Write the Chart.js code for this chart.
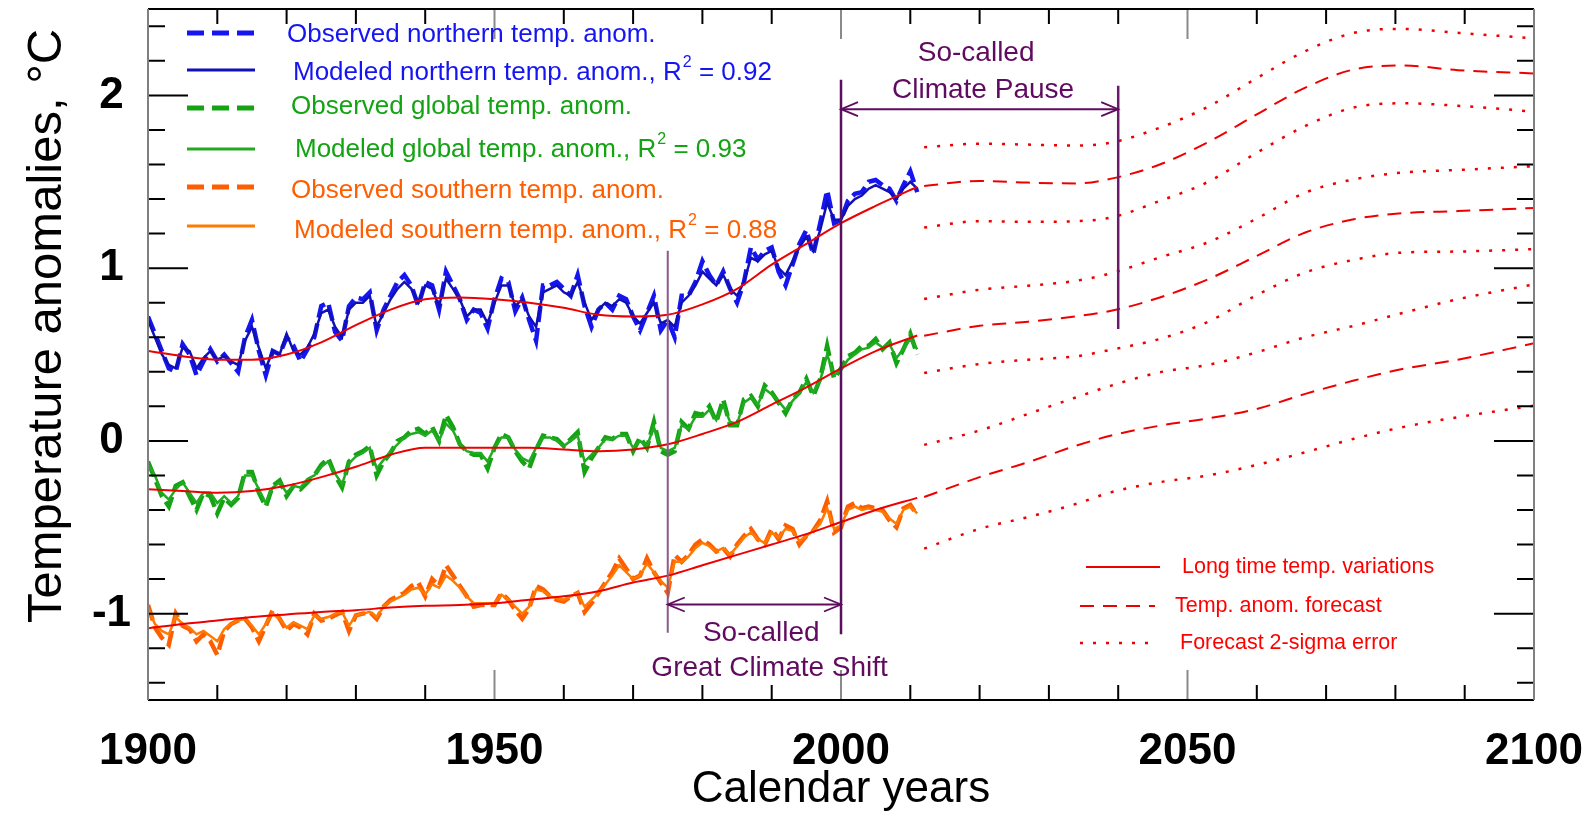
<!DOCTYPE html>
<html>
<head>
<meta charset="utf-8">
<script src="https://cdn.jsdelivr.net/npm/chart.js@4"></script>
<style>
  html, body { margin: 0; padding: 0; background: #fff; }
  canvas { display: block; }
</style>
</head>
<body>
<canvas id="myChart" width="1595" height="816"></canvas>
<script>
const FONT = '"Liberation Sans", Arial, Helvetica, sans-serif';

// annual anomalies 1900..2011
const firstYear = 1900;
const northObserved = [
  0.72, 0.62, 0.52, 0.42, 0.40, 0.56, 0.50, 0.38, 0.46, 0.53,
  0.46, 0.50, 0.45, 0.40, 0.60, 0.70, 0.52, 0.38, 0.52, 0.50,
  0.60, 0.55, 0.46, 0.53, 0.60, 0.78, 0.80, 0.63, 0.58, 0.78,
  0.83, 0.82, 0.86, 0.64, 0.76, 0.84, 0.92, 0.96, 0.90, 0.78,
  0.92, 0.90, 0.76, 0.98, 0.90, 0.82, 0.70, 0.76, 0.74, 0.65,
  0.82, 0.94, 0.92, 0.75, 0.83, 0.70, 0.58, 0.90, 0.90, 0.92,
  0.88, 0.84, 0.96, 0.78, 0.66, 0.76, 0.80, 0.76, 0.84, 0.82,
  0.72, 0.64, 0.74, 0.84, 0.64, 0.70, 0.60, 0.84, 0.84, 0.92,
  1.04, 0.96, 0.90, 0.98, 0.88, 0.80, 0.92, 1.12, 1.05, 1.10,
  1.12, 0.98, 0.90, 1.02, 1.14, 1.22, 1.08, 1.26, 1.45, 1.26,
  1.28, 1.39, 1.43, 1.44, 1.50, 1.51, 1.48, 1.46, 1.39, 1.48,
  1.56, 1.44
];
const northModeled = [
  0.70, 0.60, 0.50, 0.44, 0.42, 0.54, 0.52, 0.42, 0.48, 0.52,
  0.47, 0.49, 0.46, 0.44, 0.58, 0.66, 0.54, 0.42, 0.52, 0.50,
  0.62, 0.52, 0.50, 0.54, 0.62, 0.74, 0.76, 0.66, 0.60, 0.76,
  0.80, 0.80, 0.84, 0.66, 0.74, 0.82, 0.88, 0.92, 0.88, 0.80,
  0.90, 0.88, 0.78, 0.94, 0.88, 0.82, 0.72, 0.76, 0.76, 0.68,
  0.80, 0.90, 0.90, 0.78, 0.82, 0.72, 0.66, 0.86, 0.88, 0.90,
  0.86, 0.84, 0.92, 0.80, 0.70, 0.76, 0.80, 0.78, 0.82, 0.80,
  0.72, 0.68, 0.74, 0.80, 0.68, 0.70, 0.66, 0.80, 0.84, 0.90,
  0.98, 0.94, 0.90, 0.96, 0.88, 0.84, 0.92, 1.06, 1.04, 1.08,
  1.10, 1.00, 0.96, 1.04, 1.12, 1.18, 1.10, 1.22, 1.38, 1.28,
  1.28, 1.36, 1.40, 1.42, 1.46, 1.48, 1.46, 1.44, 1.40, 1.46,
  1.50, 1.46
];
const globalObserved = [
  -0.12, -0.22, -0.32, -0.38, -0.26, -0.24, -0.32, -0.40, -0.30, -0.32,
  -0.42, -0.33, -0.37, -0.33, -0.18, -0.18, -0.30, -0.38, -0.26, -0.23,
  -0.32, -0.26, -0.28, -0.24, -0.20, -0.14, -0.10, -0.20, -0.27, -0.12,
  -0.08, -0.06, -0.03, -0.20, -0.12, -0.07, 0.00, 0.02, 0.06, 0.07,
  0.04, 0.08, 0.00, 0.15, 0.08, -0.02, -0.06, -0.08, -0.08, -0.16,
  -0.04, 0.04, 0.02, -0.06, -0.12, -0.16, -0.05, 0.03, 0.02, 0.01,
  -0.03, 0.01, 0.05, -0.18, -0.10, -0.04, 0.02, 0.01, 0.04, 0.04,
  -0.06, 0.02, -0.04, 0.11, -0.06, -0.08, -0.06, 0.11, 0.07, 0.16,
  0.15, 0.20, 0.11, 0.24, 0.09, 0.09, 0.24, 0.26, 0.20, 0.32,
  0.28, 0.22, 0.16, 0.24, 0.28, 0.36, 0.26, 0.36, 0.55, 0.36,
  0.42, 0.49, 0.51, 0.55, 0.55, 0.59, 0.53, 0.57, 0.45, 0.53,
  0.62, 0.50
];
const globalModeled = [
  -0.14, -0.20, -0.30, -0.34, -0.28, -0.24, -0.30, -0.36, -0.30, -0.30,
  -0.36, -0.32, -0.36, -0.32, -0.20, -0.20, -0.28, -0.36, -0.27, -0.24,
  -0.30, -0.26, -0.27, -0.22, -0.20, -0.15, -0.12, -0.19, -0.25, -0.13,
  -0.09, -0.07, -0.04, -0.16, -0.11, -0.06, -0.02, 0.02, 0.04, 0.05,
  0.03, 0.06, 0.00, 0.10, 0.06, -0.02, -0.06, -0.07, -0.07, -0.12,
  -0.04, 0.02, 0.02, -0.05, -0.10, -0.12, -0.04, 0.02, 0.02, 0.00,
  -0.03, 0.00, 0.03, -0.12, -0.08, -0.04, 0.01, 0.01, 0.03, 0.03,
  -0.04, 0.00, -0.03, 0.08, -0.04, -0.06, -0.04, 0.09, 0.07, 0.14,
  0.14, 0.18, 0.12, 0.21, 0.11, 0.10, 0.22, 0.25, 0.21, 0.30,
  0.27, 0.23, 0.18, 0.23, 0.28, 0.34, 0.28, 0.35, 0.50, 0.38,
  0.41, 0.47, 0.50, 0.53, 0.54, 0.57, 0.54, 0.56, 0.48, 0.53,
  0.59, 0.53
];
const southObserved = [
  -0.95, -1.08, -1.14, -1.18, -1.00, -1.07, -1.09, -1.16, -1.12, -1.16,
  -1.24, -1.10, -1.06, -1.04, -1.03, -1.08, -1.16, -1.07, -0.98, -1.03,
  -1.10, -1.06, -1.08, -1.12, -1.00, -1.04, -1.03, -1.01, -0.99, -1.10,
  -1.01, -1.00, -0.99, -1.03, -0.96, -0.92, -0.90, -0.88, -0.84, -0.82,
  -0.90, -0.80, -0.84, -0.72, -0.78, -0.84, -0.90, -0.96, -0.95, -0.95,
  -0.95, -0.88, -0.92, -0.98, -1.03, -0.97, -0.84, -0.86, -0.90, -0.92,
  -0.93, -0.90, -0.88, -0.99, -0.94, -0.88, -0.82, -0.76, -0.68, -0.74,
  -0.80, -0.78, -0.68, -0.76, -0.82, -0.88, -0.66, -0.70, -0.66, -0.60,
  -0.57, -0.60, -0.64, -0.62, -0.67, -0.60, -0.55, -0.51, -0.57, -0.60,
  -0.51, -0.57, -0.49, -0.51, -0.60, -0.55, -0.52, -0.46, -0.35, -0.53,
  -0.50, -0.38, -0.36, -0.39, -0.38, -0.39, -0.40, -0.46, -0.50, -0.39,
  -0.37, -0.43
];
const southModeled = [
  -0.97, -1.06, -1.10, -1.12, -1.02, -1.06, -1.08, -1.12, -1.10, -1.13,
  -1.16, -1.09, -1.06, -1.04, -1.03, -1.07, -1.12, -1.06, -1.00, -1.03,
  -1.08, -1.05, -1.07, -1.09, -1.01, -1.03, -1.02, -1.00, -0.99, -1.07,
  -1.01, -1.00, -0.99, -1.02, -0.96, -0.93, -0.91, -0.89, -0.86, -0.85,
  -0.89, -0.83, -0.85, -0.78, -0.81, -0.85, -0.90, -0.94, -0.94, -0.94,
  -0.94, -0.89, -0.92, -0.96, -1.00, -0.96, -0.86, -0.87, -0.90, -0.91,
  -0.92, -0.90, -0.88, -0.96, -0.92, -0.88, -0.83, -0.78, -0.72, -0.76,
  -0.80, -0.78, -0.71, -0.76, -0.81, -0.85, -0.70, -0.70, -0.67, -0.62,
  -0.59, -0.61, -0.64, -0.62, -0.66, -0.61, -0.56, -0.53, -0.57, -0.59,
  -0.53, -0.56, -0.51, -0.52, -0.58, -0.55, -0.52, -0.48, -0.39, -0.51,
  -0.49, -0.40, -0.38, -0.40, -0.39, -0.40, -0.41, -0.45, -0.48, -0.40,
  -0.38, -0.42
];

// long time temperature variations
const longYears = [1900, 1905, 1910, 1915, 1920, 1925, 1930, 1935, 1940, 1945, 1950,
  1955, 1960, 1965, 1970, 1975, 1980, 1985, 1990, 1995, 2000, 2005, 2011];
const northLong = [0.52, 0.49, 0.47, 0.47, 0.50, 0.57, 0.67, 0.76, 0.82, 0.83, 0.82,
  0.80, 0.77, 0.73, 0.72, 0.73, 0.79, 0.88, 1.02, 1.14, 1.26, 1.36, 1.47];
const globalLong = [-0.28, -0.29, -0.30, -0.29, -0.26, -0.21, -0.15, -0.08, -0.04, -0.04, -0.04,
  -0.04, -0.05, -0.06, -0.05, -0.02, 0.04, 0.11, 0.21, 0.31, 0.42, 0.52, 0.61];
const southLong = [-1.085, -1.06, -1.04, -1.02, -1.005, -0.99, -0.98, -0.965, -0.955, -0.95, -0.94,
  -0.92, -0.90, -0.87, -0.82, -0.78, -0.72, -0.66, -0.60, -0.54, -0.47, -0.40, -0.33];

// forecast and 2-sigma band
const forecastYears = [2012, 2020, 2027, 2034, 2039, 2046, 2053, 2060, 2067, 2074, 2081, 2089, 2100];
const northForecast = [1.476, 1.505, 1.495, 1.49, 1.518, 1.60, 1.73, 1.89, 2.045, 2.15, 2.173, 2.146, 2.127];
const northUpper = [1.70, 1.72, 1.715, 1.71, 1.727, 1.813, 1.935, 2.10, 2.256, 2.362, 2.385, 2.362, 2.33];
const northLower = [1.235, 1.272, 1.268, 1.272, 1.293, 1.389, 1.50, 1.668, 1.823, 1.93, 1.954, 1.94, 1.906];
const globalForecast = [0.609, 0.666, 0.69, 0.721, 0.753, 0.83, 0.936, 1.071, 1.206, 1.283, 1.318, 1.33, 1.348];
const globalUpper = [0.821, 0.875, 0.898, 0.927, 0.971, 1.062, 1.15, 1.287, 1.437, 1.514, 1.553, 1.568, 1.59];
const globalLower = [0.393, 0.445, 0.47, 0.49, 0.528, 0.59, 0.69, 0.844, 0.975, 1.048, 1.09, 1.096, 1.11];
const southForecast = [-0.325, -0.21, -0.123, -0.027, 0.031, 0.088, 0.13, 0.185, 0.272, 0.349, 0.416, 0.47, 0.565];
const southUpper = [-0.023, 0.06, 0.156, 0.253, 0.32, 0.397, 0.44, 0.513, 0.60, 0.666, 0.74, 0.82, 0.906];
const southLower = [-0.624, -0.509, -0.441, -0.364, -0.297, -0.239, -0.2, -0.139, -0.066, 0.012, 0.079, 0.137, 0.204];

// marker lines and arrows
const markerYears = [1975, 2000, 2040];
const markerTop = [1.10, 2.09, 2.055];
const markerBottom = [-1.11, -1.12, 0.647];
const pauseArrow = { from: 2000, to: 2040, y: 1.92 };
const shiftArrow = { from: 1975, to: 2000, y: -0.947 };

// axis ticks
const xTickValues = [1900, 1910, 1920, 1930, 1940, 1950, 1960, 1970, 1980, 1990, 2000,
  2010, 2020, 2030, 2040, 2050, 2060, 2070, 2080, 2090, 2100];
const yTickValues = [-1.4, -1.2, -1, -0.8, -0.6, -0.4, -0.2, 0, 0.2, 0.4, 0.6, 0.8, 1,
  1.2, 1.4, 1.6, 1.8, 2, 2.2, 2.4];
const xLabelValues = [1900, 1950, 2000, 2050, 2100];
const yLabelValues = [-1, 0, 1, 2];

const years = northObserved.map((v, i) => firstYear + i);
function pts(xs, ys) { return ys.map((y, i) => ({ x: xs[i], y: y })); }

const RED = '#ee0000';
const BLUE = '#1515f2', NAVY = '#1010b4';
const GREEN = '#13a313', GREEN2 = '#22aa22';
const ORANGE = '#ff5e00', ORANGE2 = '#ff7a00';
const PURPLE = '#600a60';

function obs(data, color) {
  return { data: pts(years, data), borderColor: color, borderWidth: 4.5, borderDash: [16, 6], order: 3 };
}
function mod(data, color) {
  return { data: pts(years, data), borderColor: color, borderWidth: 2.5, order: 2 };
}
function longLine(data) {
  return { data: pts(longYears, data), borderColor: RED, borderWidth: 2, cubicInterpolationMode: 'monotone', order: 1 };
}
function fc(data, dotted) {
  return {
    data: pts(forecastYears, data), borderColor: RED,
    borderWidth: dotted ? 2.5 : 2, borderDash: dotted ? [3, 10] : [14, 9],
    cubicInterpolationMode: 'monotone', order: 1
  };
}

const markerColors = ['#8a5a8a', '#5c0f5c', '#6a1a6a'];
const markerSets = markerYears.map((yr, i) => ({
  data: [{ x: yr, y: markerTop[i] }, { x: yr, y: markerBottom[i] }],
  borderColor: markerColors[i], borderWidth: i === 0 ? 2 : 2.5, order: 0
}));
const arrowSets = [pauseArrow, shiftArrow].map(a => ({
  data: [{ x: a.from, y: a.y }, { x: a.to, y: a.y }],
  borderColor: PURPLE, borderWidth: 2, order: 0
}));

const datasets = [
  obs(northObserved, BLUE), mod(northModeled, NAVY),
  obs(globalObserved, GREEN), mod(globalModeled, GREEN2),
  obs(southObserved, ORANGE), mod(southModeled, ORANGE2),
  longLine(northLong), longLine(globalLong), longLine(southLong),
  fc(northForecast, false), fc(northUpper, true), fc(northLower, true),
  fc(globalForecast, false), fc(globalUpper, true), fc(globalLower, true),
  fc(southForecast, false), fc(southUpper, true), fc(southLower, true),
  ...markerSets, ...arrowSets
];

const topLegend = [
  { text: 'Observed northern temp. anom.', r2: null, color: BLUE, line: BLUE, dashed: true, y: 35, ly: 33, tx: 287 },
  { text: 'Modeled northern temp. anom., R', r2: '0.92', color: BLUE, line: NAVY, dashed: false, y: 73, ly: 70, tx: 293 },
  { text: 'Observed global temp. anom.', r2: null, color: GREEN, line: GREEN, dashed: true, y: 107, ly: 108, tx: 291 },
  { text: 'Modeled global temp. anom., R', r2: '0.93', color: GREEN, line: GREEN2, dashed: false, y: 150, ly: 149, tx: 295 },
  { text: 'Observed southern temp. anom.', r2: null, color: ORANGE, line: ORANGE, dashed: true, y: 191, ly: 187, tx: 291 },
  { text: 'Modeled southern temp. anom., R', r2: '0.88', color: ORANGE, line: ORANGE2, dashed: false, y: 231, ly: 226, tx: 294 }
];
const redLegend = [
  { text: 'Long time temp. variations', dash: [], width: 2, y: 567, x0: 1086, x1: 1160, tx: 1182 },
  { text: 'Temp. anom. forecast', dash: [14, 9], width: 2, y: 606, x0: 1080, x1: 1155, tx: 1175 },
  { text: 'Forecast 2-sigma error', dash: [3, 10], width: 2.5, y: 643, x0: 1080, x1: 1150, tx: 1180 }
];

const decor = {
  id: 'decor',
  afterDatasetsDraw(chart) {
    const { ctx, chartArea: a, scales: { x, y } } = chart;
    ctx.save();

    // inward ticks
    ctx.lineWidth = 2;
    xTickValues.forEach(v => {
      const px = x.getPixelForValue(v);
      const major = xLabelValues.includes(v);
      const len = major ? 30 : 15;
      ctx.strokeStyle = major ? '#8a8a8a' : '#000';
      ctx.beginPath();
      ctx.moveTo(px, a.top); ctx.lineTo(px, a.top + len);
      ctx.moveTo(px, a.bottom); ctx.lineTo(px, a.bottom - len);
      ctx.stroke();
    });
    ctx.strokeStyle = '#000';
    yTickValues.forEach(v => {
      const py = y.getPixelForValue(v);
      const len = yLabelValues.includes(v) ? 40 : 17;
      ctx.beginPath();
      ctx.moveTo(a.left, py); ctx.lineTo(a.left + len, py);
      ctx.moveTo(a.right, py); ctx.lineTo(a.right - len, py);
      ctx.stroke();
    });

    // frame
    ctx.setLineDash([]);
    ctx.lineWidth = 2;
    ctx.strokeStyle = '#000';
    ctx.beginPath();
    ctx.moveTo(a.left, a.top); ctx.lineTo(a.right, a.top);
    ctx.moveTo(a.left, a.bottom); ctx.lineTo(a.right, a.bottom);
    ctx.stroke();
    ctx.strokeStyle = '#808080';
    ctx.beginPath();
    ctx.moveTo(a.left, a.top); ctx.lineTo(a.left, a.bottom);
    ctx.moveTo(a.right, a.top); ctx.lineTo(a.right, a.bottom);
    ctx.stroke();

    // arrow heads
    ctx.strokeStyle = PURPLE;
    ctx.lineWidth = 1.8;
    function head(xv, yv, dir) {
      const px = x.getPixelForValue(xv), py = y.getPixelForValue(yv);
      ctx.beginPath();
      ctx.moveTo(px - dir * 17, py - 7); ctx.lineTo(px, py); ctx.lineTo(px - dir * 17, py + 7);
      ctx.stroke();
    }
    [pauseArrow, shiftArrow].forEach(ar => { head(ar.from, ar.y, -1); head(ar.to, ar.y, 1); });

    // annotation text
    ctx.fillStyle = PURPLE;
    ctx.font = '28px ' + FONT;
    ctx.textAlign = 'center';
    ctx.textBaseline = 'middle';
    ctx.fillText('So-called', x.getPixelForValue(2019.5), y.getPixelForValue(2.245));
    ctx.fillText('Climate Pause', x.getPixelForValue(2020.5), y.getPixelForValue(2.03));
    ctx.fillText('So-called', x.getPixelForValue(1988.5), y.getPixelForValue(-1.115));
    ctx.fillText('Great Climate Shift', x.getPixelForValue(1989.7), y.getPixelForValue(-1.315));

    // top-left legend
    ctx.textAlign = 'left';
    topLegend.forEach(e => {
      ctx.strokeStyle = e.line;
      ctx.lineWidth = e.dashed ? 5 : 3;
      ctx.setLineDash(e.dashed ? [17, 8] : []);
      ctx.beginPath();
      ctx.moveTo(187, e.ly); ctx.lineTo(255, e.ly);
      ctx.stroke();
      ctx.setLineDash([]);
      ctx.fillStyle = e.color;
      ctx.font = '26px ' + FONT;
      ctx.fillText(e.text, e.tx, e.y);
      if (e.r2) {
        let w = ctx.measureText(e.text).width;
        ctx.font = '16px ' + FONT;
        ctx.fillText('2', e.tx + w + 1, e.y - 10);
        w += ctx.measureText('2').width + 1;
        ctx.font = '26px ' + FONT;
        ctx.fillText(' = ' + e.r2, e.tx + w, e.y);
      }
    });

    // bottom-right legend
    ctx.fillStyle = '#ff0000';
    ctx.strokeStyle = RED;
    ctx.font = '21.5px ' + FONT;
    redLegend.forEach(e => {
      ctx.lineWidth = e.width;
      ctx.setLineDash(e.dash);
      ctx.beginPath();
      ctx.moveTo(e.x0, e.y); ctx.lineTo(e.x1, e.y);
      ctx.stroke();
      ctx.setLineDash([]);
      ctx.fillText(e.text, e.tx, e.y);
    });

    // y axis title
    ctx.fillStyle = '#000';
    ctx.font = '49px ' + FONT;
    ctx.textAlign = 'center';
    ctx.translate(47, 326);
    ctx.rotate(-Math.PI / 2);
    ctx.fillText('Temperature anomalies, \u00B0C', 0, 0);
    ctx.restore();
  }
};

const ctx = document.getElementById('myChart').getContext('2d');
const myChart = new Chart(ctx, {
  type: 'line',
  data: { datasets: datasets },
  options: {
    responsive: false,
    animation: false,
    parsing: false,
    layout: { padding: { top: 9, right: 61, left: 0, bottom: 0 } },
    elements: { point: { radius: 0 }, line: { tension: 0, fill: false } },
    plugins: { legend: { display: false }, tooltip: { enabled: false } },
    scales: {
      x: {
        type: 'linear', min: 1900, max: 2100,
        grid: { display: false }, border: { display: false },
        afterBuildTicks(scale) { scale.ticks = xLabelValues.map(v => ({ value: v })); },
        ticks: {
          autoSkip: false, maxRotation: 0, padding: 17,
          color: '#000', font: { family: FONT, size: 44, weight: 'bold' },
          callback: v => String(v)
        },
        title: { display: true, text: 'Calendar years', color: '#000',
          font: { family: FONT, size: 44 }, padding: { top: 0, bottom: 0 } },
        afterFit(scale) {
          scale.height = 116;
          scale.paddingLeft = 0; scale.paddingRight = 0;
        }
      },
      y: {
        type: 'linear', min: -1.5, max: 2.5,
        grid: { display: false }, border: { display: false },
        afterBuildTicks(scale) { scale.ticks = yLabelValues.map(v => ({ value: v })); },
        ticks: {
          autoSkip: false, padding: 9, crossAlign: 'center',
          color: '#000', font: { family: FONT, size: 44, weight: 'bold' },
          callback: v => String(v)
        },
        afterFit(scale) {
          scale.width = 148;
          scale.paddingTop = 0; scale.paddingBottom = 0;
        }
      }
    }
  },
  plugins: [decor]
});
</script>
</body>
</html>
